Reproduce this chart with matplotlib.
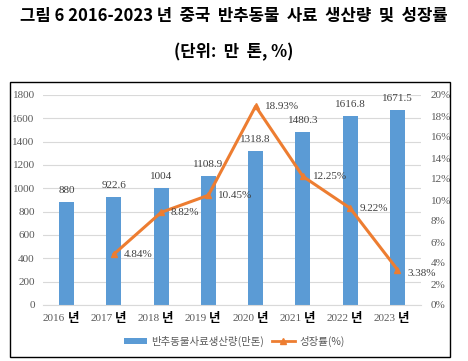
import matplotlib
matplotlib.use("Agg")
import matplotlib.pyplot as plt
from matplotlib.lines import Line2D
from matplotlib.patches import Patch
import matplotlib.transforms as mtrans

years = ["2016", "2017", "2018", "2019", "2020", "2021", "2022", "2023"]
production = [880, 922.6, 1004, 1108.9, 1318.8, 1480.3, 1616.8, 1671.5]
prod_labels = ["880", "922.6", "1004", "1108.9", "1318.8", "1480.3", "1616.8", "1671.5"]
growth_years_idx = [1, 2, 3, 4, 5, 6, 7]
growth = [4.84, 8.82, 10.45, 18.93, 12.25, 9.22, 3.38]
left_ticks = [0, 200, 400, 600, 800, 1000, 1200, 1400, 1600, 1800]
right_ticks = [0, 2, 4, 6, 8, 10, 12, 14, 16, 18, 20]

KR = ["Noto Sans CJK KR", "DejaVu Sans"]
SERIF = ["Liberation Serif", "DejaVu Serif"]
GRAY = "#595959"
BLUE = "#5B9BD5"
ORANGE = "#ED7D31"

fig = plt.figure(figsize=(4.68, 3.61), dpi=100)
fig.patch.set_facecolor("white")

fig.text(0.5, 1 - 16 / 361, "그림 6 2016-2023 년  중국  반추동물  사료  생산량  및  성장률",
         ha="center", va="center", fontsize=12, fontweight="bold", family=KR)
fig.text(0.5, 1 - 52 / 361, "(단위:  만  톤, %)", ha="center", va="center",
         fontsize=12, fontweight="bold", family=KR)

# chart border
border = plt.Rectangle((10 / 468, 1 - 357 / 361), 440 / 468, 275 / 361,
                       transform=fig.transFigure, fill=False, edgecolor="black", lw=1.0)
fig.patches.append(border)

ax = fig.add_axes([43 / 468, 1 - 305 / 361, 378 / 468, 210 / 361])
x = list(range(len(years)))
ax.bar(x, production, width=0.32, color=BLUE, zorder=2)
ax.set_xlim(-0.5, len(years) - 0.5)
ax.set_ylim(0, 1800)
ax.set_yticks(left_ticks)
ax.set_yticklabels([str(t) for t in left_ticks], family=SERIF, fontsize=8, color=GRAY)
ax.grid(axis="y", color="#D9D9D9", lw=0.8, zorder=0)
ax.set_axisbelow(True)
for s in ["top", "left", "right"]:
    ax.spines[s].set_visible(False)
ax.spines["bottom"].set_color("#D9D9D9")
ax.tick_params(axis="y", length=0, pad=6)
ax.tick_params(axis="x", length=0)
ax.set_xticks(x)
ax.set_xticklabels([])

for xi, v, lab in zip(x, production, prod_labels):
    ax.annotate(lab, (xi, v), xytext=(0, 5), textcoords="offset points",
                ha="center", va="bottom", family=SERIF, fontsize=8, color="#404040")

trans = mtrans.blended_transform_factory(ax.transData, ax.transAxes)
for xi, yr in zip(x, years):
    ax.text(xi - 0.03, -0.064, yr, transform=trans, ha="right", va="center",
            family=SERIF, fontsize=8, color=GRAY)
    ax.text(xi + 0.02, -0.064, "년", transform=trans, ha="left", va="center",
            family=KR, fontsize=9, fontweight="bold", color="black")

ax2 = ax.twinx()
ax2.set_ylim(0, 20)
ax2.set_yticks(right_ticks)
ax2.set_yticklabels([f"{t}%" for t in right_ticks], family=SERIF, fontsize=8, color=GRAY)
ax2.tick_params(axis="y", length=0, pad=7)
for s in ["top", "left", "right", "bottom"]:
    ax2.spines[s].set_visible(False)
ax2.plot(growth_years_idx, growth, color=ORANGE, lw=2.2, marker="^", markersize=5,
         zorder=3)
for xi, g in zip(growth_years_idx, growth):
    dy = -3 if xi == growth_years_idx[-1] else 0
    ax2.annotate(f"{g:.2f}%", (xi, g), xytext=(7, dy), textcoords="offset points",
                 ha="left", va="center", family=SERIF, fontsize=8, color="#404040")

handles = [Patch(facecolor=BLUE, edgecolor="none"),
           Line2D([], [], color=ORANGE, lw=2, marker="^", markersize=5)]
leg = fig.legend(handles, ["반추동물사료생산량(만톤)", "성장률(%)"], loc="center",
                 bbox_to_anchor=(0.5, 1 - 341 / 361), ncol=2, frameon=False,
                 prop={"family": KR, "size": 7.5}, handlelength=2.2, handleheight=0.5,
                 columnspacing=0.8, handletextpad=0.4)
for t in leg.get_texts():
    t.set_color(GRAY)

fig.savefig("out.png", dpi=100)
